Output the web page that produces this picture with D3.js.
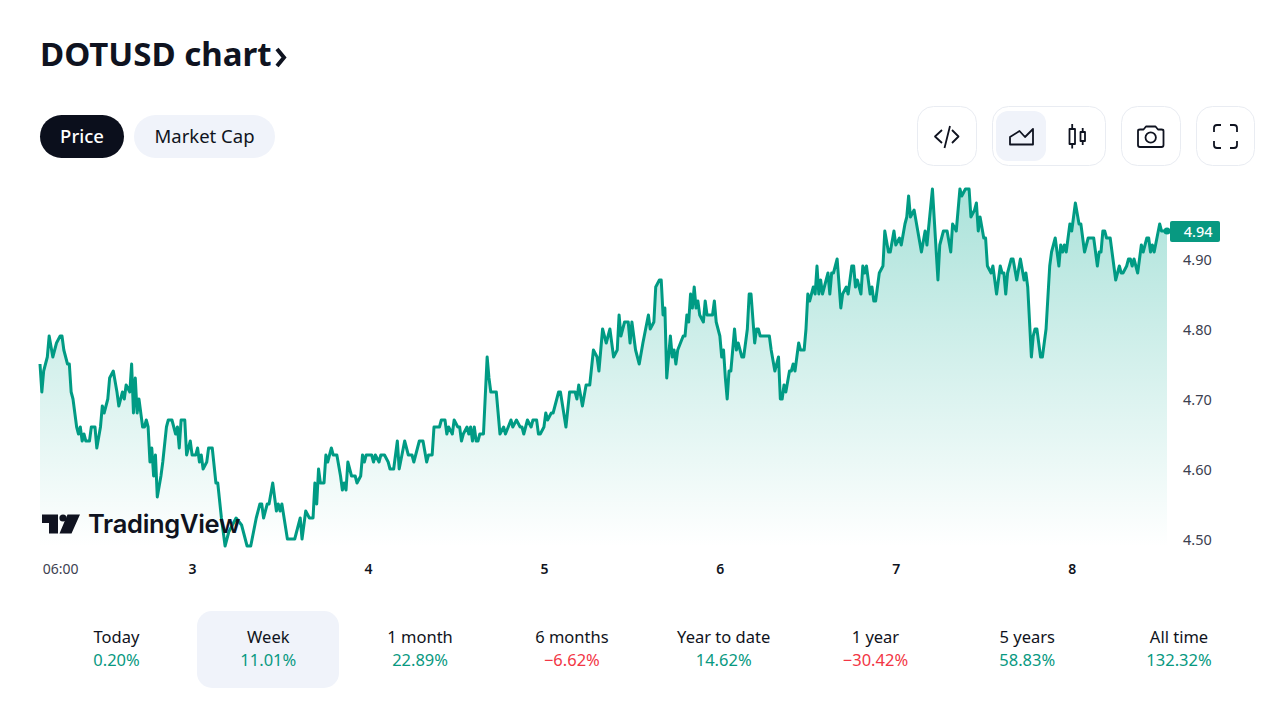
<!DOCTYPE html>
<html>
<head>
<meta charset="utf-8">
<title>DOTUSD chart</title>
<script src="https://cdn.jsdelivr.net/npm/d3@7"></script>
<style>
html, body { margin: 0; padding: 0; background: #fff; }
svg { display: block; font-family: "Noto Sans", sans-serif; }
.tick text { font-family: "Noto Sans", sans-serif; }
</style>
</head>
<body>
<svg id="chart" width="1280" height="720"></svg>
<script>
// 15 minute bars counted from the left edge, price in US cents
var barIndex = [
0,1,2,4,5,7,9,11,12,13,15,16,17,18,20,21,22,23,24,25,
27,28,30,31,33,34,35,37,38,40,42,43,45,46,47,49,50,51,52,53,
54,56,57,58,59,60,61,62,63,64,66,67,69,70,72,73,74,75,76,77,
79,80,82,83,85,86,87,88,89,91,92,94,96,97,99,101,103,105,107,110,
111,113,115,118,120,121,122,124,125,127,129,130,131,132,135,139,142,143,145,147,
149,150,151,152,153,155,156,157,159,160,162,164,165,166,167,168,170,172,173,175,
176,177,178,181,182,183,185,186,188,190,191,193,195,196,199,201,203,204,206,207,
209,211,212,214,215,218,219,221,222,223,225,226,228,229,230,231,233,234,235,236,
237,238,239,240,242,244,245,246,249,250,251,253,254,257,258,260,262,263,264,266,
268,269,271,272,273,275,276,277,279,280,283,284,287,289,292,293,294,296,298,300,
302,304,305,307,309,311,313,315,316,317,319,321,322,323,325,327,329,332,333,335,
336,338,339,340,341,342,344,345,346,347,348,351,352,353,354,355,356,357,358,359,
360,362,363,364,367,368,369,371,372,373,374,375,376,377,379,380,381,383,384,386,
387,388,390,391,392,393,398,399,401,403,404,405,406,407,409,410,411,412,414,415,
417,418,419,420,422,423,424,425,426,427,430,431,432,433,435,437,438,440,441,443,
444,445,446,448,449,450,451,453,454,455,456,458,460,461,463,464,466,467,469,470,
472,473,474,475,477,479,481,483,484,487,490,491,493,495,497,498,500,502,503,505,
507,508,510,511,512,513,515,516,517,519,520,522,524,525,526,527,528,530,531,533,
535,537,538,539,541,542,543,544,546,547,549,551,552,554,556,557,558,559,560,562,
563,565,567,568,570,572,575,577,578,579,580,581,582,584,587,589,590,591,593,594,
595,596,597,599,601,602,604,605,606,607,608,611,612,615
];
var priceCents = [
475,471,474,476,479,476,478,479,479,477,475,475,471,470,466,465,466,464,465,464,
464,466,466,463,466,469,468,470,473,474,471,469,471,470,472,471,475,468,473,468,
470,466,466,467,466,461,463,459,462,456,459,461,466,467,467,466,465,466,463,467,
467,462,464,462,462,463,461,462,460,461,463,463,458,458,453,449,451,452,453,452,
451,449,449,453,455,455,453,455,455,458,454,455,454,455,450,450,453,450,454,453,
453,458,455,460,458,458,462,461,463,462,462,459,457,458,457,461,459,459,458,459,
462,461,462,462,461,462,461,462,462,461,460,460,464,460,464,462,462,461,463,464,
464,461,462,462,466,466,467,467,465,466,465,467,466,466,464,465,466,465,466,464,
466,464,464,465,465,476,473,471,471,468,465,466,465,467,466,467,466,466,465,467,
466,467,467,465,465,466,468,467,468,468,471,471,466,471,471,470,472,469,472,472,
477,476,474,480,478,480,476,477,482,479,481,481,478,481,477,475,478,482,480,481,
486,487,487,482,483,473,479,476,477,475,477,479,479,482,481,485,483,486,483,484,
482,481,484,482,482,484,481,479,476,477,473,470,474,474,480,477,478,476,476,480,
485,485,478,480,480,479,479,477,474,476,470,470,472,471,474,474,475,474,478,477,
477,480,485,484,486,485,489,485,487,485,488,485,488,488,490,483,485,486,485,489,
489,486,487,485,489,488,489,485,486,484,484,488,489,494,491,491,494,492,493,492,
495,496,499,496,497,494,491,494,492,500,487,492,494,494,491,495,494,500,499,500,
500,496,497,498,494,496,493,493,489,488,489,485,489,488,488,485,488,490,490,487,
490,487,488,486,476,479,480,480,476,476,480,489,491,493,489,492,491,492,491,495,
494,498,495,495,491,493,493,489,491,491,494,494,493,493,487,489,488,488,489,490,
490,489,490,488,492,491,493,493,491,492,491,495,494,494
];
var lastPrice = "4.94";
var priceTicks = [4.5, 4.6, 4.7, 4.8, 4.9];
var timeTickBars = [11, 83, 179, 275, 371, 467, 563];
var timeTickLabels = ["06:00", "3", "4", "5", "6", "7", "8"];
var periodLabels = ["Today", "Week", "1 month", "6 months", "Year to date", "1 year", "5 years", "All time"];
var periodValues = [0.20, 11.01, 22.89, -6.62, 14.62, -30.42, 58.83, 132.32];

var green = "#089981", lineGreen = "#009b84", red = "#f23645", ink = "#0f1320", pale = "#f0f3fa", edge = "#e9ecf2";

var svg = d3.select("#chart");
var x = d3.scaleLinear().domain([0, 615]).range([40, 1167]);
var y = d3.scaleLinear().domain([4.5, 4.9]).range([539, 259]);
var points = d3.zip(barIndex, priceCents.map(function(c) { return c / 100; }));

// area fade
var grad = svg.append("defs").append("linearGradient")
    .attr("id", "fade").attr("gradientUnits", "userSpaceOnUse")
    .attr("x1", 0).attr("x2", 0).attr("y1", 189).attr("y2", 547);
grad.append("stop").attr("offset", 0).attr("stop-color", "#00a88f").attr("stop-opacity", 0.33);
grad.append("stop").attr("offset", 1).attr("stop-color", "#00a88f").attr("stop-opacity", 0);

var area = d3.area().x(function(d) { return x(d[0]); }).y0(547).y1(function(d) { return y(d[1]); });
var line = d3.line().x(function(d) { return x(d[0]); }).y(function(d) { return y(d[1]); });

svg.append("path").datum(points).attr("d", area).attr("fill", "url(#fade)");
svg.append("path").datum(points).attr("d", line)
    .attr("fill", "none").attr("stroke", lineGreen).attr("stroke-width", 3).attr("stroke-linejoin", "round");

// title
var title = svg.append("text").attr("x", 40).attr("y", 66)
    .attr("font-size", 33).attr("font-weight", 700).attr("fill", ink).text("DOTUSD chart");
svg.append("path").attr("d", "M277 49 L284 57.500 L277 66").attr("fill", "none")
    .attr("stroke", ink).attr("stroke-width", 4);

// price / market cap pills
svg.append("rect").attr("x", 40).attr("y", 115).attr("width", 84).attr("height", 43).attr("rx", 21.5).attr("fill", "#0b0f1c");
svg.append("rect").attr("x", 134).attr("y", 115).attr("width", 141).attr("height", 43).attr("rx", 21.5).attr("fill", pale);
svg.append("text").attr("x", 82).attr("y", 143).attr("text-anchor", "middle")
    .attr("font-size", 18.5).attr("font-weight", 500).attr("fill", "#fff").text("Price");
svg.append("text").attr("x", 204.5).attr("y", 143).attr("text-anchor", "middle")
    .attr("font-size", 18.5).attr("fill", ink).text("Market Cap");

// toolbar
function box(bx, w) {
    svg.append("rect").attr("x", bx + 0.5).attr("y", 106.5).attr("width", w).attr("height", 59).attr("rx", 16)
        .attr("fill", "#fff").attr("stroke", edge);
}
function icon(d, fill) {
    svg.append("path").attr("d", d).attr("fill", fill || "none").attr("stroke", ink)
        .attr("stroke-width", 1.8).attr("stroke-linejoin", "round");
}
box(917, 59); box(992, 113); box(1121, 59); box(1196, 58);
svg.append("rect").attr("x", 996).attr("y", 111).attr("width", 50).attr("height", 50).attr("rx", 12).attr("fill", pale);
icon("M942 130 L935 136.5 L942 143 M950 126 L944.5 148 M952 130 L958.5 136.5 L952 143");
icon("M1010 144.500 L1010 137 L1019.500 131 L1025 137 L1033 129 L1033 144.500 Z");
icon("M1069.500 129 H1075 V144 H1069.500 Z M1072.200 124 V129 M1072.200 144 V148.500 M1080.500 132 H1085 V141 H1080.500 Z M1082.700 128 V132 M1082.700 141 V145");
icon("M1138 131 Q1138 129.500 1140 129.500 H1143.500 L1146 126.500 H1155.500 L1158 129.500 H1161.500 Q1163.500 129.500 1163.500 131 V145 Q1163.500 147 1161.500 147 H1140 Q1138 147 1138 145 Z");
svg.append("circle").attr("cx", 1150.7).attr("cy", 137.5).attr("r", 5.2).attr("fill", "none").attr("stroke", ink).attr("stroke-width", 1.8);
icon("M1214 132 V128 Q1214 125 1217 125 H1221 M1230 125 H1234 Q1237 125 1237 128 V132 M1237 141 V145 Q1237 148 1234 148 H1230 M1221 148 H1217 Q1214 148 1214 145 V141");

// axes
var yAxis = svg.append("g").attr("transform", "translate(1183,0)")
    .call(d3.axisRight(y).tickValues(priceTicks).tickSize(0).tickPadding(0).tickFormat(d3.format(".2f")));
yAxis.select(".domain").remove();
yAxis.selectAll("text").attr("font-size", 14.5).attr("fill", "#3c4150").attr("dy", "0.36em");

var xAxis = svg.append("g").attr("transform", "translate(0,564)")
    .call(d3.axisBottom(x).tickValues(timeTickBars).tickSize(0).tickPadding(0)
        .tickFormat(function(d, i) { return timeTickLabels[i]; }));
xAxis.select(".domain").remove();
xAxis.selectAll("text").attr("font-size", 14).attr("fill", function(d, i) { return i == 0 ? "#3c4150" : ink; })
    .attr("font-weight", function(d, i) { return i == 0 ? 400 : 600; });

// last price marker
var lastY = y(+lastPrice);
svg.append("circle").attr("cx", x(615)).attr("cy", lastY).attr("r", 3.5).attr("fill", lineGreen);
svg.append("rect").attr("x", 1170).attr("y", lastY - 10).attr("width", 50).attr("height", 21).attr("rx", 2).attr("fill", green);
svg.append("text").attr("x", 1212.5).attr("y", lastY + 6).attr("text-anchor", "end")
    .attr("font-size", 14.5).attr("font-weight", 500).attr("fill", "#fff").text(lastPrice);

// tradingview logo
var logo = svg.append("g").attr("fill", ink);
logo.append("path").attr("d", "M42 514.500 H58 V533.500 H49 V523 H42 Z M67.500 514.500 H80 L71.500 533.500 H59.500 Z");
logo.append("circle").attr("cx", 63).attr("cy", 518).attr("r", 3.6);
logo.append("text").attr("x", 88).attr("y", 533).attr("font-family", "Inter, sans-serif")
    .attr("font-size", 25.5).attr("font-weight", 600).attr("letter-spacing", -0.3).text("TradingView");

// period table
svg.append("rect").attr("x", 197).attr("y", 611).attr("width", 142).attr("height", 77).attr("rx", 15).attr("fill", pale);
var fmt = function(v) { return (v < 0 ? "\u2212" : "") + Math.abs(v).toFixed(2) + "%"; };
var cols = d3.scalePoint().domain(periodLabels).range([116.5, 1179]);
var cells = svg.selectAll(".period").data(periodLabels).enter().append("g")
    .attr("class", "period").attr("transform", function(d) { return "translate(" + cols(d) + ",0)"; });
cells.append("text").attr("y", 643).attr("text-anchor", "middle").attr("font-size", 16.5).attr("fill", ink)
    .text(function(d) { return d; });
cells.append("text").attr("y", 666).attr("text-anchor", "middle").attr("font-size", 16.5)
    .attr("fill", function(d, i) { return periodValues[i] < 0 ? red : green; })
    .text(function(d, i) { return fmt(periodValues[i]); });
</script>
</body>
</html>
